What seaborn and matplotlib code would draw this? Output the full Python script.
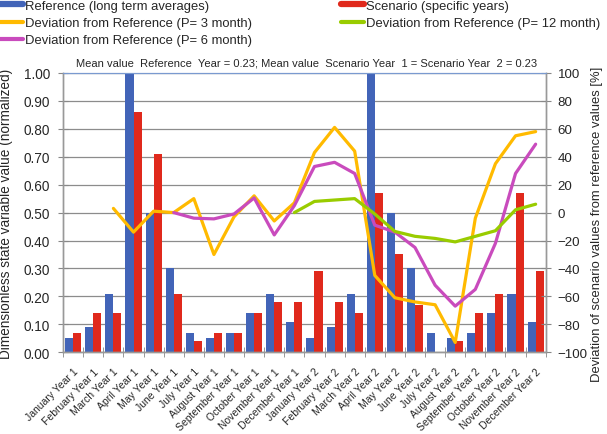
import numpy as np
import pandas as pd
import matplotlib
matplotlib.use("Agg")
import matplotlib.pyplot as plt
from matplotlib.lines import Line2D
from matplotlib.ticker import FormatStrFormatter, MultipleLocator
import seaborn as sns

months = ['January', 'February', 'March', 'April', 'May', 'June', 'July',
          'August', 'September', 'October', 'November', 'December']
categories = [f'{m} Year {y}' for y in (1, 2) for m in months]

reference = [0.05, 0.09, 0.21, 1.00, 0.50, 0.30, 0.07, 0.05, 0.07, 0.14, 0.21, 0.11,
             0.05, 0.09, 0.21, 1.00, 0.50, 0.30, 0.07, 0.05, 0.07, 0.14, 0.21, 0.11]
scenario = [0.07, 0.14, 0.14, 0.86, 0.71, 0.21, 0.04, 0.07, 0.07, 0.14, 0.18, 0.18,
            0.29, 0.18, 0.14, 0.57, 0.35, 0.17, 0.00, 0.04, 0.14, 0.21, 0.57, 0.29]

nan = np.nan
dev_p3 = [nan, nan, 3, -14, 1, 0, 10, -30, -3, 12, -6, 7,
          43, 61, 44, -45, -61, -64, -66, -93, -4, 35, 55, 58]
dev_p6 = [nan, nan, nan, nan, nan, 0, -4, -4.5, -1, 10.5, -16, 5,
          33, 36, 28, -9, -14, -25, -52, -67, -55, -22, 28, 49]
dev_p12 = [nan, nan, nan, nan, nan, nan, nan, nan, nan, nan, nan, 0,
           8, 9, 10, -1, -13.5, -17, -18.5, -21, -17, -13, 2, 6]

lab_ref = 'Reference (long term averages)'
lab_scen = 'Scenario (specific years)'
lab_p3 = 'Deviation from Reference (P= 3 month)'
lab_p6 = 'Deviation from Reference (P= 6 month)'
lab_p12 = 'Deviation from Reference (P= 12 month)'

c_ref = '#4264b8'
c_scen = '#e0291c'
c_p3 = '#ffba00'
c_p6 = '#c94bbd'
c_p12 = '#99cc00'

sns.set_style('white')
plt.rcParams['font.family'] = ['Liberation Sans', 'DejaVu Sans']

bars = pd.DataFrame({
    'month': categories * 2,
    'value': reference + scenario,
    'series': [lab_ref] * 24 + [lab_scen] * 24,
})
lines = pd.DataFrame({
    'pos': list(range(24)) * 3,
    'dev': dev_p3 + dev_p6 + dev_p12,
    'series': [lab_p3] * 24 + [lab_p6] * 24 + [lab_p12] * 24,
})

fig, ax = plt.subplots(figsize=(6.07, 4.35), dpi=100)
fig.subplots_adjust(left=0.104, right=0.899, top=0.830, bottom=0.188)

sns.barplot(data=bars, x='month', y='value', hue='series', order=categories,
            palette=[c_ref, c_scen], saturation=1, width=0.8, gap=0, ax=ax,
            legend=False, edgecolor='none')
ax.set_xlim(-0.5, 23.5)
ax.set_ylim(0, 1)
ax.yaxis.set_major_locator(MultipleLocator(0.1))
ax.yaxis.set_major_formatter(FormatStrFormatter('%.2f'))
ax.grid(axis='y', color='#8c8c8c', lw=0.9)
ax.set_axisbelow(True)
ax.set_xlabel('')
ax.set_ylabel('Dimensionless state variable value (normalized)', fontsize=9.8)
ax.yaxis.set_label_coords(-0.104, 0.5)
ax.set_xticks(range(24))
ax.set_xticklabels(categories, rotation=45, ha='right', rotation_mode='anchor',
                   fontsize=7.5)
ax.set_xticks(np.arange(-0.5, 24, 1), minor=True)
ax.tick_params(axis='x', which='major', length=0, pad=10)
ax.tick_params(axis='x', which='minor', length=7, direction='inout',
               color='#888888', bottom=True)
ax.tick_params(axis='y', labelsize=9.8, length=7, direction='inout', pad=6,
               color='#888888', left=True)

ax2 = ax.twinx()
sns.lineplot(data=lines, x='pos', y='dev', hue='series',
             palette={lab_p3: c_p3, lab_p6: c_p6, lab_p12: c_p12},
             lw=2.3, ax=ax2, legend=False)
ax2.set_ylim(-100, 100)
ax2.set_xlim(-0.5, 23.5)
ax2.yaxis.set_major_locator(MultipleLocator(20))
ax2.set_xlabel('')
ax2.set_ylabel('Deviation of scenario values from reference values [%]',
               fontsize=9.4)
ax2.yaxis.set_label_coords(1.094, 0.462)
ax2.tick_params(axis='y', labelsize=9.6, length=7, direction='inout', pad=5,
                color='#888888', right=True)

for a in (ax, ax2):
    for side in ('left', 'right', 'bottom'):
        a.spines[side].set_color('#999999')
        a.spines[side].set_linewidth(1.0)
    a.spines['top'].set_color('#7a9ad0')

fig.text(0.505, 0.855,
         'Mean value  Reference  Year = 0.23; Mean value  Scenario Year  1 = Scenario Year  2 = 0.23',
         fontsize=8, ha='center', va='center')

leg_style = dict(loc='upper left', frameon=False, fontsize=9.4, handlelength=1.75,
                 handletextpad=0.15, labelspacing=0.38, borderaxespad=0,
                 borderpad=0)
fig.legend([Line2D([], [], color=c_ref, lw=4.5),
            Line2D([], [], color=c_p3, lw=3),
            Line2D([], [], color=c_p6, lw=3)],
           [lab_ref, lab_p3, lab_p6], bbox_to_anchor=(0.0, 0.998), **leg_style)
fig.legend([Line2D([], [], color=c_scen, lw=4.5),
            Line2D([], [], color=c_p12, lw=3)],
           [lab_scen, lab_p12], bbox_to_anchor=(0.562, 0.998), **leg_style)

plt.savefig('out.png', dpi=100)
